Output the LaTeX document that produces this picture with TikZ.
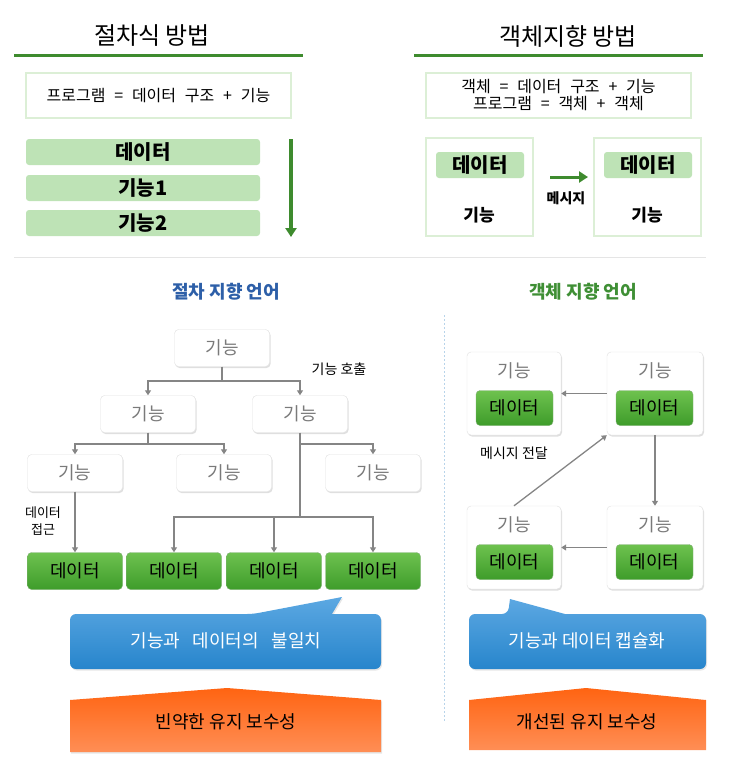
\documentclass[tikz,border=0pt]{standalone}
\usepackage{fontspec}
\setmainfont{Noto Sans CJK KR}
\usetikzlibrary{arrows.meta,shadows}
\definecolor{dgreen}{HTML}{3E8B2E}
\definecolor{lgreen}{HTML}{BEE3B6}
\definecolor{bgreen}{HTML}{DCEFD6}
\definecolor{gtxt}{HTML}{7A7A7A}
\definecolor{conncol}{HTML}{858585}
\definecolor{ttlblue}{HTML}{2D5FA8}
\definecolor{ttlgreen}{HTML}{3F8F35}
\definecolor{dtop}{HTML}{6EC24F}
\definecolor{dbot}{HTML}{3E9C2A}
\definecolor{btop}{HTML}{5CA8E2}
\definecolor{bbot}{HTML}{2785CC}
\definecolor{otop}{HTML}{FF6412}
\definecolor{obot}{HTML}{FF8E55}
\definecolor{sepblue}{HTML}{B8D4EA}
\newcommand\wsp{\hspace{0.55em}}
\tikzset{
  ttl/.style={font=\fontsize{24}{28}\selectfont},
  rule/.style={draw=dgreen,line width=3pt},
  lbox/.style={draw=bgreen,line width=1.2pt,fill=white},
  gbar/.style={fill=lgreen,rounded corners=3pt,minimum width=234pt,minimum height=26pt,inner sep=0pt,font=\fontsize{20}{22}\selectfont\bfseries},
  glab/.style={fill=lgreen,rounded corners=3pt,minimum width=88pt,minimum height=26pt,inner sep=0pt,font=\fontsize{20}{22}\selectfont\bfseries},
  fbox/.style={draw=black!12,fill=white,rounded corners=4pt,minimum width=95pt,minimum height=37pt,text=gtxt,font=\fontsize{18}{20}\selectfont,drop shadow={opacity=0.25,shadow xshift=1pt,shadow yshift=-1.5pt}},
  dbox/.style={draw=dbot!80!black!60,top color=dtop,bottom color=dbot,rounded corners=4pt,minimum width=95pt,minimum height=37pt,font=\fontsize{18}{20}\selectfont},
  obox/.style={draw=black!12,fill=white,rounded corners=4pt,minimum width=94pt,minimum height=83pt,drop shadow={opacity=0.25,shadow xshift=1pt,shadow yshift=-1.5pt}},
  odat/.style={draw=dbot!80!black!60,top color=dtop,bottom color=dbot,rounded corners=4pt,minimum width=77pt,minimum height=35pt,font=\fontsize{18}{20}\selectfont},
  ktxt/.style={text=gtxt,font=\fontsize{18}{20}\selectfont},
  line/.style={draw=conncol,line width=1.3pt},
  conn/.style={line,-{Triangle[length=5pt,width=6pt]}},
  garrow/.style={draw=dgreen,line width=3.5pt,-{Triangle[length=9pt,width=11pt]}},
  lbl/.style={font=\fontsize{14}{17}\selectfont},
  ctxt/.style={font=\fontsize{18}{20}\selectfont},
}
\begin{document}
\begin{tikzpicture}[x=1pt,y=-1pt]
\useasboundingbox (0,0) rectangle (730,764);
% ---------- top left
\node[ttl] (t1) at (152,36) {절차식 방법};
\coordinate (r1a) at (14,55); \coordinate (r1b) at (303,55);
\draw[rule] (r1a) -- (r1b);
\draw[lbox] (26,73) rectangle (291,118);
\node[font=\fontsize{16}{18}\selectfont] (p1) at (158.5,96) {프로그램\wsp{}=\wsp{}데이터\wsp{}구조\wsp{}+\wsp{}기능};
\node[gbar] (b1) at (143,152) {데이터};
\node[gbar] (b2) at (143,188) {기능1};
\node[gbar] (b3) at (143,223) {기능2};
\coordinate (ga) at (291,139); \coordinate (gb) at (291,237);
\draw[garrow] (ga) -- (gb);
% ---------- top right
\node[ttl] (t2) at (568,36) {객체지향 방법};
\coordinate (r2a) at (414,55); \coordinate (r2b) at (703,55);
\draw[rule] (r2a) -- (r2b);
\draw[lbox] (426,73) rectangle (691,118);
\node[font=\fontsize{16}{18}\selectfont,align=center] (p2) at (558.5,95) {객체\wsp{}=\wsp{}데이터\wsp{}구조\wsp{}+\wsp{}기능\\[-1pt]프로그램\wsp{}=\wsp{}객체\wsp{}+\wsp{}객체};
\draw[lbox] (426,138) rectangle (533,236);
\draw[lbox] (594,138) rectangle (701,236);
\node[glab] (q1) at (480,165) {데이터};
\node[glab] (q2) at (648,165) {데이터};
\node[font=\fontsize{17}{19}\selectfont\bfseries] (q1f) at (479,215) {기능};
\node[font=\fontsize{17}{19}\selectfont\bfseries] (q2f) at (647,215) {기능};
\coordinate (ma) at (550,177); \coordinate (mb) at (588,177);
\draw[garrow,line width=3pt] (ma) -- (mb);
\node[font=\fontsize{14}{16}\selectfont\bfseries] (msg) at (566,198) {메시지};
% separator
\coordinate (sa) at (14,257); \coordinate (sb) at (706,257);
\draw[black!10,line width=0.8pt] (sa) -- (sb);
% ---------- bottom left tree
\node[font=\fontsize{18}{20}\selectfont\bfseries,text=ttlblue] (st1) at (226,292) {절차 지향 언어};
\node[fbox] (f0) at (222,348) {기능};
\node[fbox] (f1) at (148,414) {기능};
\node[fbox] (f2) at (300,414) {기능};
\node[fbox] (f3) at (75,473) {기능};
\node[fbox] (f4) at (224,473) {기능};
\node[fbox] (f5) at (373,473) {기능};
\node[dbox] (d1) at (75,571) {데이터};
\node[dbox] (d2) at (174,571) {데이터};
\node[dbox] (d3) at (274,571) {데이터};
\node[dbox] (d4) at (373,571) {데이터};
\coordinate (j0) at (222,381);
\coordinate (j1) at (148,444);
\coordinate (j2) at (300,444);
\coordinate (j3) at (300,517);
\draw[line] (f0.south) -- (j0);
\draw[conn] (j0) -| (f1.north);
\draw[conn] (j0) -| (f2.north);
\draw[line] (f1.south) -- (j1);
\draw[conn] (j1) -| (f3.north);
\draw[conn] (j1) -| (f4.north);
\draw[line] (f2.south) -- (j2);
\draw[conn] (j2) -| (f5.north);
\draw[line] (j2) -- (j3);
\draw[conn] (j3) -| (d2.north);
\draw[conn] (j3) -| (d3.north);
\draw[conn] (j3) -| (d4.north);
\draw[conn] (f3.south) -- (d1.north);
\node[lbl] (call) at (339,369) {기능 호출};
\node[font=\fontsize{13}{17}\selectfont,align=center] (acc) at (43,521) {데이터\\접근};
% dashed separator
\coordinate (va) at (444,315); \coordinate (vb) at (444,722);
\draw[sepblue,line width=1pt,dash pattern=on 2pt off 2pt] (va) -- (vb);
% ---------- bottom right
\node[font=\fontsize{18}{20}\selectfont\bfseries,text=ttlgreen] (st2) at (583,292) {객체 지향 언어};
\node[obox] (o1) at (514,393.5) {};
\node[obox,minimum width=96pt] (o2) at (655,393.5) {};
\node[obox] (o3) at (514,547.5) {};
\node[obox,minimum width=96pt] (o4) at (655,547.5) {};
\node[ktxt] (k1) at (514,371) {기능};
\node[ktxt] (k2) at (655,371) {기능};
\node[ktxt] (k3) at (514,525) {기능};
\node[ktxt] (k4) at (655,525) {기능};
\node[odat] (e1) at (514.5,408) {데이터};
\node[odat] (e2) at (654.5,408) {데이터};
\node[odat] (e3) at (514.5,562) {데이터};
\node[odat] (e4) at (654.5,562) {데이터};
\draw[conn] (o2.west) -- (o1.east);
\draw[conn] (o4.west) -- (o3.east);
\draw[conn] (o2.south) -- (o4.north);
\draw[conn] (o3.north) -- (o2.south west);
\node[lbl] (md) at (514,453) {메시지 전달};
% ---------- callouts
\shade[top color=btop,bottom color=bbot,rounded corners=6pt,drop shadow={opacity=0.2,shadow xshift=1pt,shadow yshift=-1.5pt}]
  (70,614) -- (253,614) [sharp corners] -- (342,597) -- (332,614) [rounded corners=6pt] -- (381,614) -- (381,669) -- (70,669) -- cycle;
\node[text=white,ctxt] (c1) at (226,641) {기능과\hspace{0.7em}데이터의\hspace{0.7em}불일치};
\shade[top color=btop,bottom color=bbot,rounded corners=6pt,drop shadow={opacity=0.2,shadow xshift=1pt,shadow yshift=-1.5pt}]
  (469,614) -- (508,614) [sharp corners] -- (510,599) -- (565,614) [rounded corners=6pt] -- (706,614) -- (706,669) -- (469,669) -- cycle;
\node[text=white,ctxt] (c2) at (587,641) {기능과 데이터 캡슐화};
\shade[top color=otop,bottom color=obot,drop shadow={opacity=0.2,shadow xshift=1pt,shadow yshift=-1.5pt}]
  (70,700) -- (227,688) -- (381,700) -- (381,752) -- (70,752) -- cycle;
\node[ctxt] (m1) at (226,722) {빈약한 유지 보수성};
\shade[top color=otop,bottom color=obot]
  (469,700) -- (586,688) -- (706,700) -- (706,750) -- (469,750) -- cycle;
\node[ctxt] (m2) at (587,722) {개선된 유지 보수성};
\end{tikzpicture}
\end{document}
